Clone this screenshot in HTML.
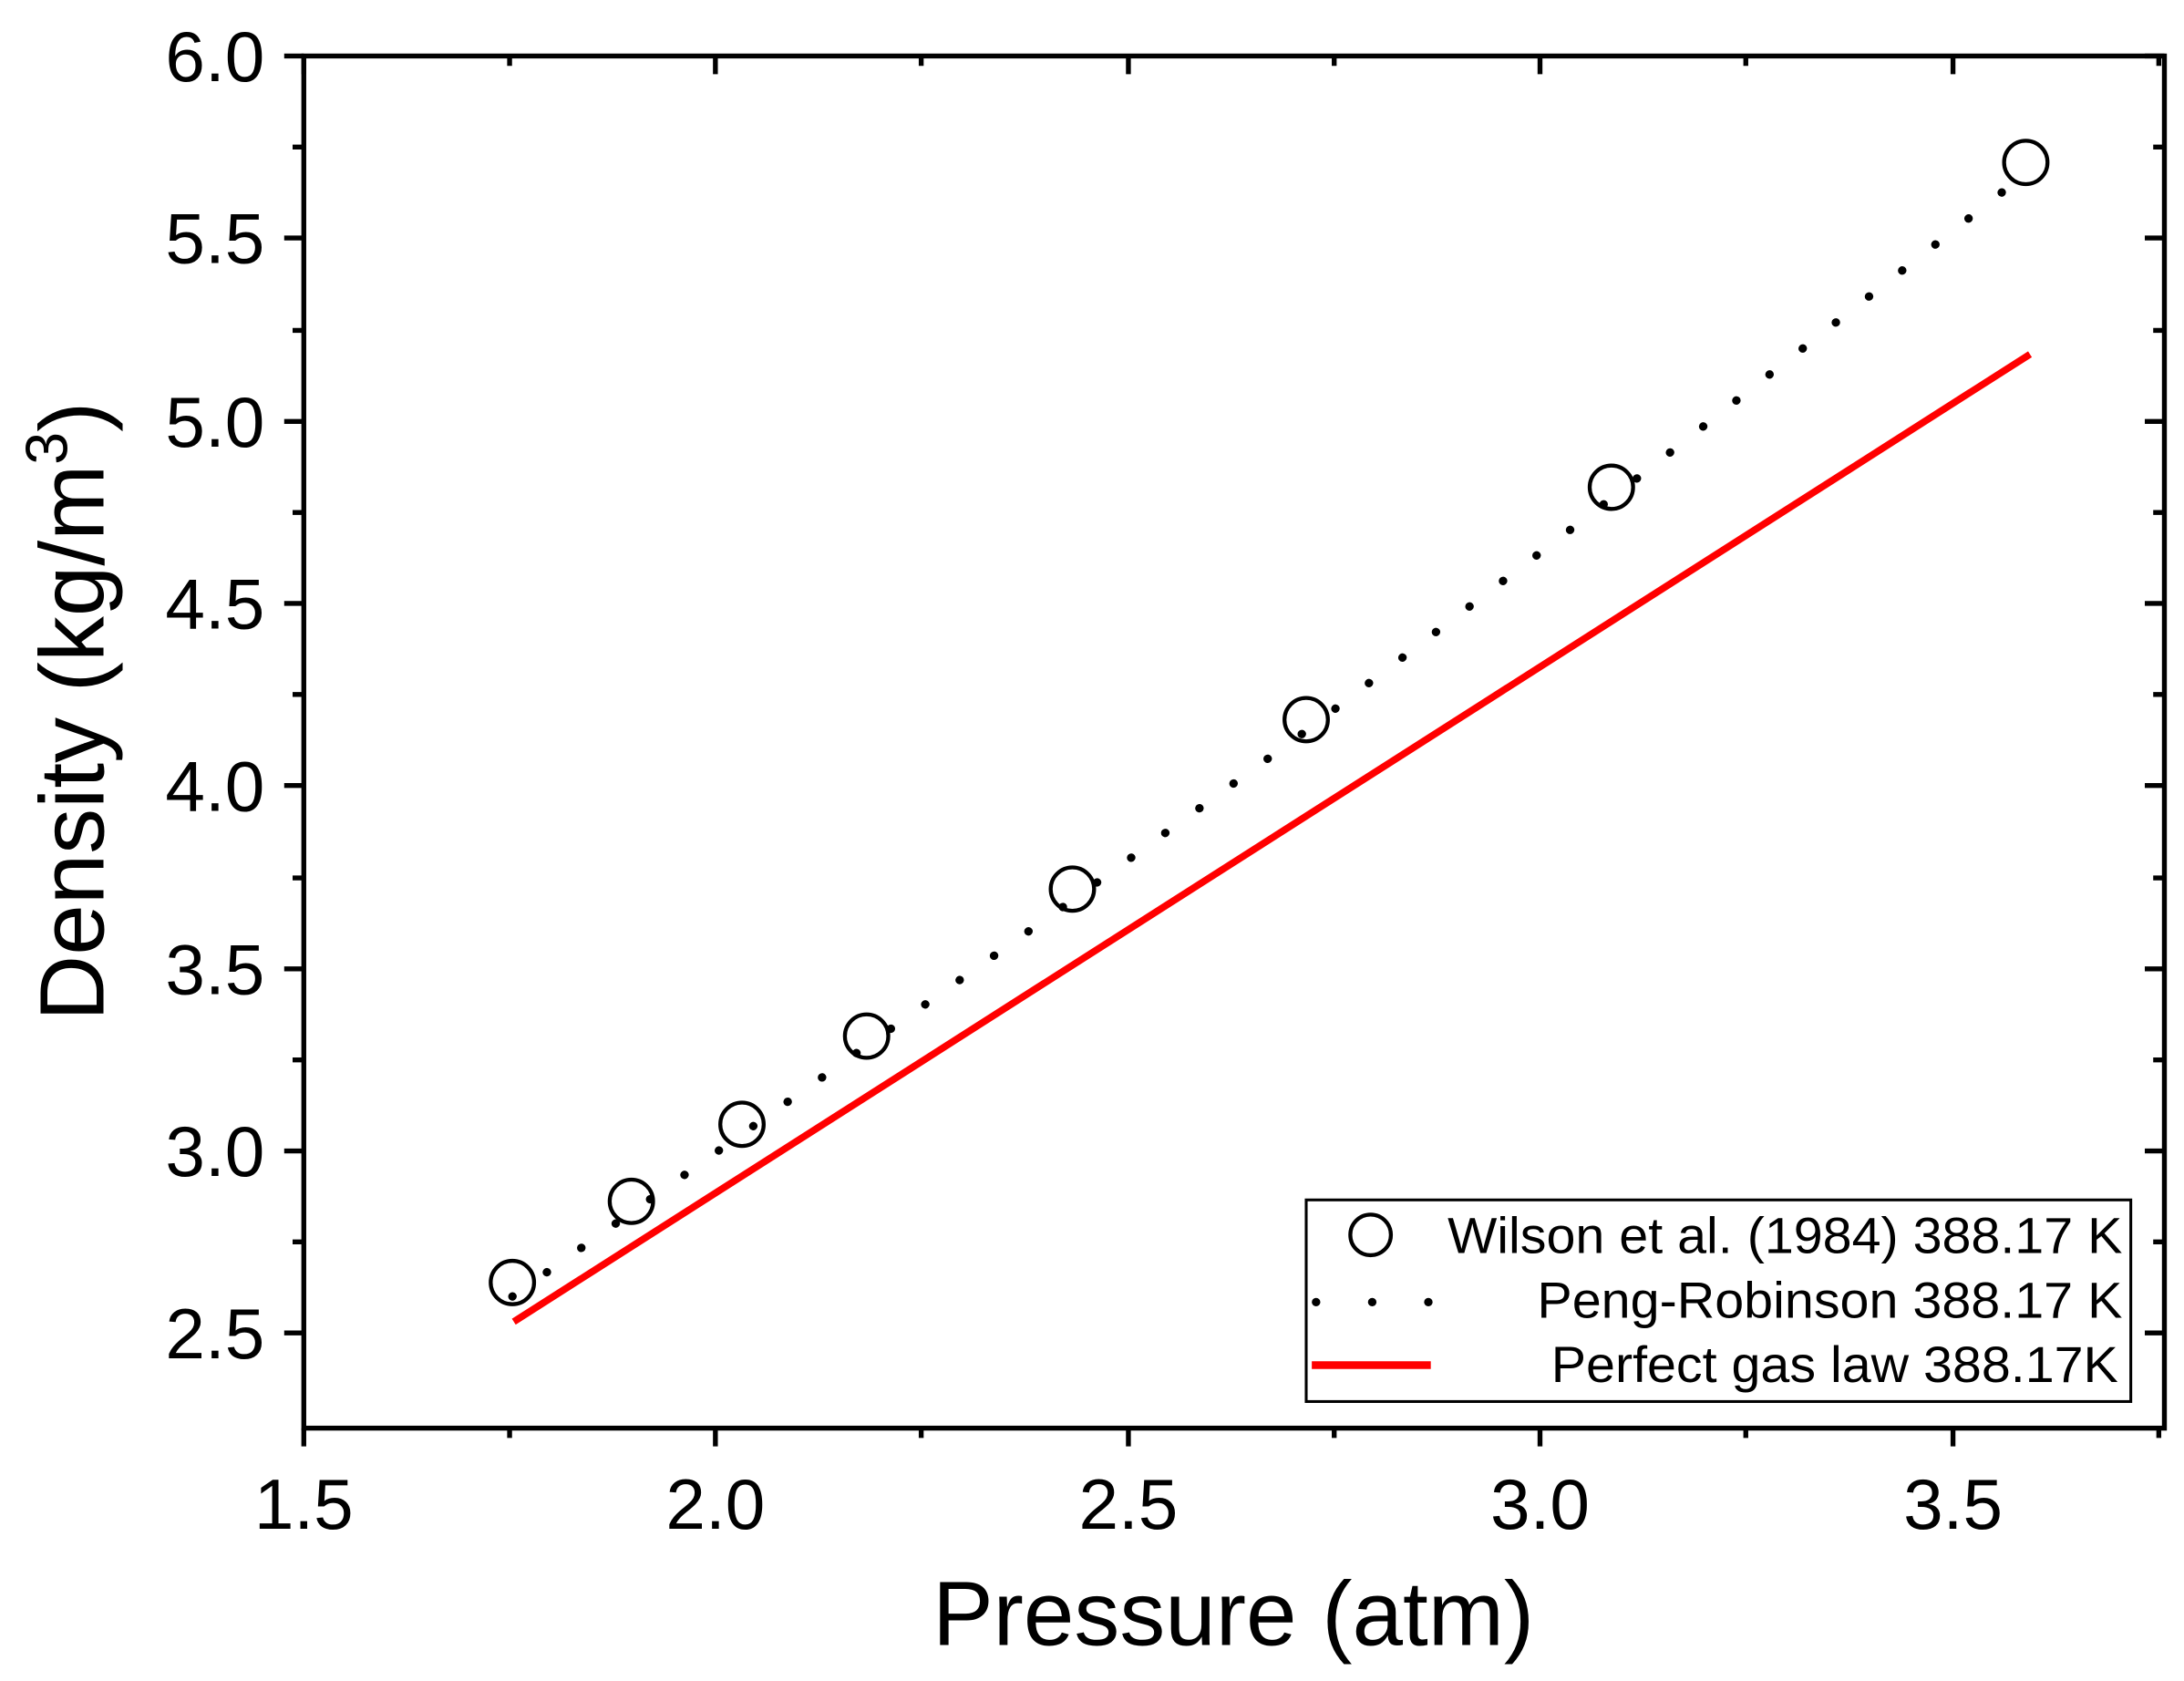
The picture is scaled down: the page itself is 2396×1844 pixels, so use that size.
<!DOCTYPE html>
<html><head><meta charset="utf-8"><style>html,body{margin:0;padding:0;background:#fff}svg{display:block}</style></head><body>
<svg width="2396" height="1844" viewBox="0 0 1560 1200.6" xmlns="http://www.w3.org/2000/svg" font-family="Liberation Sans, Arial, sans-serif">
<rect width="1560" height="1201" fill="#fff"/>
<g stroke="#000" stroke-width="3.5" fill="none">
<rect x="217" y="40" width="1329" height="980"/>
<path d="M203 40H217M203 170H217M203 301H217M203 431H217M203 561H217M203 692H217M203 822H217M203 952H217"/>
<path d="M209 105H217M209 236H217M209 366H217M209 496H217M209 627H217M209 757H217M209 887H217"/>
<path d="M1532 40H1546M1532 170H1546M1532 301H1546M1532 431H1546M1532 561H1546M1532 692H1546M1532 822H1546M1532 952H1546"/>
<path d="M1538 105H1546M1538 236H1546M1538 366H1546M1538 496H1546M1538 627H1546M1538 757H1546M1538 887H1546"/>
<path d="M217 1020V1033M511 1020V1033M806 1020V1033M1100 1020V1033M1395 1020V1033"/>
<path d="M364 1020V1027M658 1020V1027M953 1020V1027M1247 1020V1027M1542 1020V1027"/>
<path d="M217 40V53M511 40V53M806 40V53M1100 40V53M1395 40V53"/>
<path d="M364 40V47M658 40V47M953 40V47M1247 40V47M1542 40V47"/>
</g>
<g font-size="51" fill="#000" text-anchor="end">
<text x="189" y="58">6.0</text><text x="189" y="188">5.5</text><text x="189" y="319">5.0</text><text x="189" y="449">4.5</text><text x="189" y="579">4.0</text><text x="189" y="710">3.5</text><text x="189" y="840">3.0</text><text x="189" y="970">2.5</text>
</g>
<g font-size="51" fill="#000" text-anchor="middle">
<text x="217" y="1092">1.5</text><text x="511" y="1092">2.0</text><text x="806" y="1092">2.5</text><text x="1100" y="1092">3.0</text><text x="1395" y="1092">3.5</text>
</g>
<text x="881" y="1175" font-size="65" text-anchor="middle">Pressure (atm)</text>
<text transform="translate(74,508) rotate(-90)" font-size="65" text-anchor="middle">Density (kg/m<tspan font-size="42" dy="-26">3</tspan><tspan dy="26">)</tspan></text>
<path d="M367 944L1450 253" stroke="#ff0000" stroke-width="5"/>
<path d="M366 926L451 866L530 810L619 747L766 643L933 522L1151 356L1447 124" fill="none" stroke="#000" stroke-width="6" stroke-linecap="round" stroke-dasharray="0.1 30"/>
<g fill="none" stroke="#000" stroke-width="2.8">
<circle cx="366" cy="916" r="15.5"/><circle cx="451" cy="858" r="15.5"/><circle cx="530" cy="803" r="15.5"/><circle cx="619" cy="740" r="15.5"/><circle cx="766" cy="635" r="15.5"/><circle cx="933" cy="514" r="15.5"/><circle cx="1151" cy="348" r="15.5"/><circle cx="1447" cy="116" r="15.5"/>
</g>
<rect x="933" y="857" width="589" height="144" fill="#fff" stroke="#000" stroke-width="2"/>
<circle cx="979" cy="882" r="14.5" fill="none" stroke="#000" stroke-width="2.8"/>
<path d="M940 930H1022" stroke="#000" stroke-width="6" stroke-linecap="round" stroke-dasharray="0.1 40"/>
<path d="M937 975H1022" stroke="#ff0000" stroke-width="5.5"/>
<g font-size="36" text-anchor="end" fill="#000">
<text x="1516" y="895" textLength="482" lengthAdjust="spacingAndGlyphs">Wilson et al. (1984) 388.17 K</text>
<text x="1516" y="941" textLength="418" lengthAdjust="spacingAndGlyphs">Peng-Robinson 388.17 K</text>
<text x="1513" y="987" textLength="405" lengthAdjust="spacingAndGlyphs">Perfect gas law 388.17K</text>
</g>
</svg>
</body></html>
